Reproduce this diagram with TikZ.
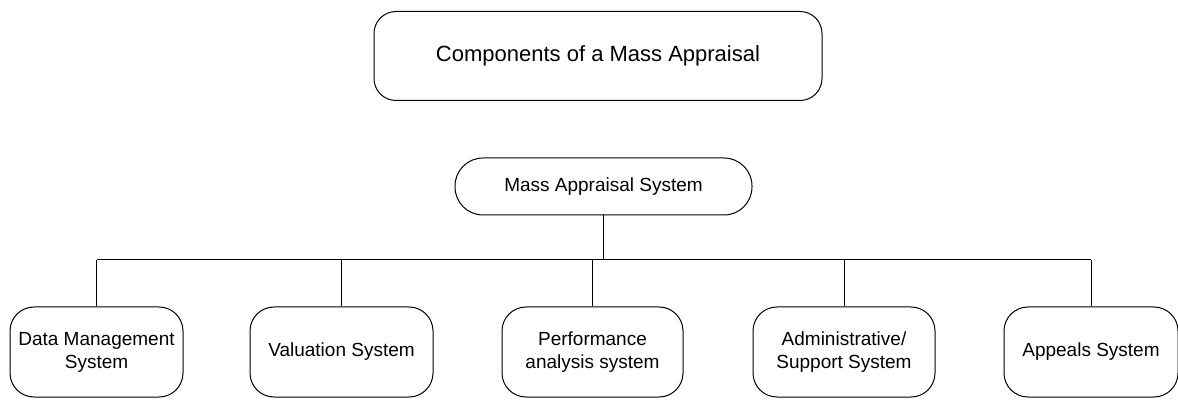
\documentclass[tikz,border=0pt]{standalone}
\usepackage{fontspec}
\setmainfont{Liberation Sans}
\usepackage{tikz}
\usetikzlibrary{positioning}

\tikzset{
  titlebox/.style={draw, line width=1pt, rounded corners=22pt, minimum width=448pt, minimum height=89pt, font=\fontsize{22}{26}\selectfont},
  rootbox/.style={draw, line width=1pt, rounded corners=28pt, minimum width=297pt, minimum height=57pt, font=\fontsize{19}{23}\selectfont},
  partbox/.style={draw, line width=1pt, rounded corners=24pt, minimum height=90pt, align=center, font=\fontsize{19}{23}\selectfont},
}

\begin{document}
\begin{tikzpicture}[x=1pt,y=1pt]
\useasboundingbox (0,0) rectangle (1178,399);
    \node[titlebox] (Title) at (598,343) {Components of a Mass Appraisal};
    \node[rootbox] (Mass) at (603.5,212.5) {Mass Appraisal System};
    \node[partbox, minimum width=173pt] (Data) at (96.5,47) {Data Management\\System};
    \node[partbox, minimum width=183pt] (Valuation) at (341.5,47) {Valuation System};
    \node[partbox, minimum width=181pt] (Performance) at (592.5,47) {Performance\\analysis system};
    \node[partbox, minimum width=182pt] (Admin) at (844,47) {Administrative/\\Support System};
    \node[partbox, minimum width=174pt] (Appeals) at (1091,47) {Appeals System};
    \coordinate (bus) at (0,139);
    \draw[line width=1pt] (Mass.south) -- (Mass.south |- bus);
    \draw[line width=1pt] (Data.north |- bus) -- (Appeals.north |- bus);
    \foreach \n in {Data,Valuation,Performance,Admin,Appeals}
      \draw[line width=1pt] (\n.north) -- (\n.north |- bus);
\end{tikzpicture}
\end{document}
